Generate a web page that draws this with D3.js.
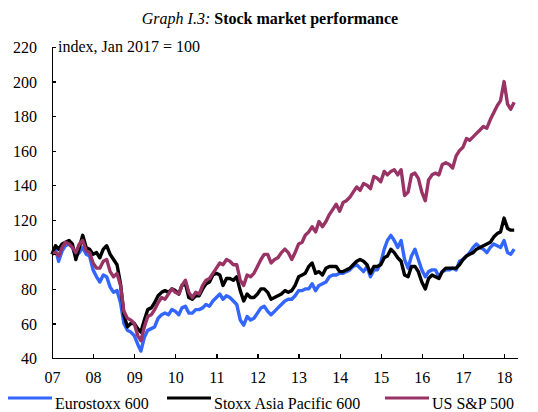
<!DOCTYPE html>
<html>
<head>
    <meta charset="utf-8">
    <title>Stock market performance</title>
    <style>
        body {
            margin: 0;
            background: #fff;
        }

        text {
            font-family: 'Liberation Serif', 'Times New Roman', serif;
            font-size: 16px;
            fill: #000;
        }

        .axis path,
        .axis line {
            fill: none;
            stroke: #000;
            stroke-width: 1.3px;
            shape-rendering: crispEdges;
        }

        .line {
            fill: none;
            stroke-width: 3.4px;
            stroke-linejoin: round;
        }
    </style>
    <script src="https://d3js.org/d3.v7.min.js"></script>
</head>

<body>
    <script type="text/javascript">
        "use strict";

        // monthly readings, Jan 2007 .. Apr 2018 (index, Jan 2007 = 100)
        const eurostoxx = [
            100, 103, 96, 102, 105, 106, 104, 99, 101, 104, 100, 99,
            91, 87, 84, 88, 87, 81, 78, 79, 72, 60, 56, 55,
            53, 48, 44, 52, 56, 57, 58, 63, 65, 66, 65, 68,
            67, 65, 69, 70, 66, 66, 68, 68, 69, 71, 70, 73,
            75, 77, 74, 76, 75, 73, 71, 62, 59, 64, 62, 63,
            66, 69, 70, 67, 65, 67, 69, 71, 73, 74, 74, 76,
            79, 79, 80, 80, 83, 79, 82, 83, 84, 87, 88, 88,
            89, 89, 90, 91, 93, 94, 92, 90, 93, 87, 91, 91,
            95, 103, 108, 111, 108, 104, 108, 97, 92, 99, 103, 97,
            91, 87, 90, 91, 91, 87, 90, 91, 91, 92, 91, 96,
            97, 99, 101, 104, 106, 104, 103, 101, 104, 106, 105, 104,
            108, 101, 100, 103
        ];
        const asiaPacific = [
            100, 105, 103, 106, 107, 108, 106, 97, 104, 111, 104, 103,
            100, 101, 98, 103, 105, 100, 97, 94, 83, 65, 58, 60,
            60, 57, 55, 62, 68, 69, 72, 76, 78, 79, 78, 80,
            79, 77, 82, 83, 75, 74, 76, 76, 80, 83, 84, 88,
            89, 88, 82, 86, 86, 85, 87, 79, 73, 77, 75, 75,
            77, 80, 80, 78, 74, 75, 76, 77, 79, 78, 79, 82,
            87, 88, 89, 93, 95, 89, 90, 88, 92, 93, 93, 93,
            90, 90, 91, 92, 94, 96, 97, 96, 94, 89, 93, 93,
            94, 98, 99, 103, 101, 98, 96, 88, 87, 93, 93, 90,
            84, 80, 86, 88, 87, 86, 90, 92, 92, 92, 92, 94,
            97, 99, 100, 101, 103, 104, 105, 106, 107, 110, 112, 113,
            121, 115, 114, 114
        ];
        const sp500 = [
            100, 101, 99, 104, 107, 106, 104, 101, 106, 108, 102, 101,
            95, 92, 92, 96, 97, 90, 87, 89, 82, 67, 63, 62,
            60, 53, 50, 58, 64, 65, 68, 72, 75, 74, 77, 80,
            78, 77, 82, 85, 78, 75, 78, 77, 82, 85, 86, 89,
            92, 95, 94, 97, 96, 94, 94, 85, 82, 88, 87, 89,
            93, 97, 100, 100, 95, 97, 98, 101, 103, 101, 97, 101,
            106, 107, 111, 113, 116, 113, 119, 116, 119, 123, 126, 129,
            125, 130, 131, 133, 136, 139, 137, 141, 140, 138, 145, 144,
            142, 148, 146, 148, 149, 146, 149, 134, 136, 146, 147, 144,
            136, 131, 143, 146, 147, 146, 152, 153, 152, 150, 157, 160,
            162, 167, 166, 168, 170, 172, 174, 173, 178, 182, 186, 189,
            200, 187, 184, 188
        ];

        const seriesNames = ["Eurostoxx 600", "Stoxx Asia Pacific 600", "US S&P 500"];
        const seriesColors = ["#3366ff", "#000000", "#993366"];
        const yTicks = [40, 60, 80, 100, 120, 140, 160, 180, 200, 220];
        const xTickYears = d3.range(2007, 2019);

        const W = 538, H = 412;
        const margin = { top: 47, right: 21, bottom: 54, left: 52 };
        const width = W - margin.left - margin.right,
            height = H - margin.top - margin.bottom;

        const svg = d3.select("body").append("svg")
            .attr("width", W)
            .attr("height", H);

        // title
        const title = svg.append("text")
            .attr("x", 270)
            .attr("y", 24)
            .attr("text-anchor", "middle");
        title.append("tspan").style("font-style", "italic").text("Graph I.3: ");
        title.append("tspan").style("font-weight", "bold").text("Stock market performance");

        const g = svg.append("g")
            .attr("transform", "translate(" + margin.left + "," + margin.top + ")");

        const x = d3.scaleTime()
            .domain([new Date(2007, 0, 1), new Date(2018, 3, 26)])
            .range([0, width]);
        const y = d3.scaleLinear()
            .domain([40, 220])
            .range([height, 0]);

        const series = [eurostoxx, asiaPacific, sp500].map(function (vals, k) {
            return {
                name: seriesNames[k],
                color: seriesColors[k],
                values: vals.map(function (v, i) {
                    return { date: new Date(2007, i, 1), value: v };
                })
            };
        });

        const line = d3.line()
            .x(function (d) { return x(d.date); })
            .y(function (d) { return y(d.value); });

        g.selectAll(".line")
            .data(series)
            .enter().append("path")
            .attr("class", "line")
            .attr("d", function (d) { return line(d.values); })
            .style("stroke", function (d) { return d.color; });

        // axes, ticks pointing inward
        g.append("g")
            .attr("class", "axis")
            .call(d3.axisLeft(y).tickValues(yTicks).tickSizeInner(-4).tickSizeOuter(0).tickPadding(15))
            .selectAll("text").attr("dy", "0.36em");

        g.append("g")
            .attr("class", "axis")
            .attr("transform", "translate(0," + height + ")")
            .call(d3.axisBottom(x)
                .tickValues(xTickYears.map(function (yr) { return new Date(yr, 0, 1); }))
                .tickFormat(d3.timeFormat("%y"))
                .tickSizeInner(-4).tickSizeOuter(0).tickPadding(14));

        g.selectAll(".axis text")
            .style("font-family", "'Liberation Serif', serif")
            .style("font-size", "16px");

        g.append("text")
            .attr("x", 6)
            .attr("y", 5)
            .text("index, Jan 2017 = 100");

        // legend
        const legendX = [8, 167, 385];
        const legend = svg.append("g").selectAll("g")
            .data(series)
            .enter().append("g")
            .attr("transform", function (d, i) { return "translate(" + legendX[i] + ",0)"; });
        legend.append("line")
            .attr("x1", 0).attr("x2", 44)
            .attr("y1", 398).attr("y2", 398)
            .style("stroke", function (d) { return d.color; })
            .style("stroke-width", 3);
        legend.append("text")
            .attr("x", 47)
            .attr("y", 409)
            .text(function (d) { return d.name; });
    </script>
</body>
</html>
